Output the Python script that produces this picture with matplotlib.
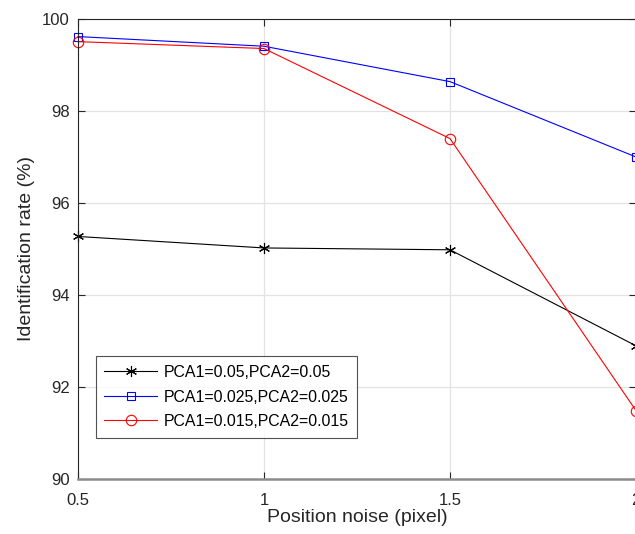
import matplotlib.pyplot as plt

plt.rcParams['font.family'] = ['Liberation Sans', 'DejaVu Sans']

noise = [0.5, 1, 1.5, 2]
rate_005 = [95.27, 95.02, 94.98, 92.89]
rate_0025 = [99.62, 99.41, 98.64, 97.00]
rate_0015 = [99.51, 99.36, 97.40, 91.48]
labels = ['PCA1=0.05,PCA2=0.05', 'PCA1=0.025,PCA2=0.025', 'PCA1=0.015,PCA2=0.015']

fig = plt.figure(figsize=(6.35, 5.34), dpi=100)
ax = fig.add_axes([0.1228, 0.1037, 0.8788, 0.8605])

# six-armed asterisk like the matlab '*' marker
ax.plot(noise, rate_005, color='black', marker=(6, 2, 0), markersize=8, linewidth=0.8,
        markeredgewidth=0.8, label=labels[0], clip_on=False)
ax.plot(noise, rate_0025, color='blue', marker='s', markersize=6.2, linewidth=0.8,
        markerfacecolor='none', markeredgewidth=0.8, label=labels[1], clip_on=False)
ax.plot(noise, rate_0015, color='red', marker='o', markersize=7.5, linewidth=0.8,
        markerfacecolor='none', markeredgewidth=0.8, label=labels[2], clip_on=False)

ax.set_xlim(0.5, 2)
ax.set_ylim(90, 100)
ax.set_xticks([0.5, 1, 1.5, 2])
ax.set_xticklabels(['0.5', '1', '1.5', '2'])
ax.set_yticks([90, 92, 94, 96, 98, 100])
ax.grid(True, color='#e3e3e3', linewidth=0.9)
ax.set_axisbelow(True)
ax.tick_params(direction='in', top=True, right=True, labelsize=12, length=5,
               width=0.8, colors='#262626')
ax.tick_params(axis='x', pad=10)
ax.tick_params(axis='y', pad=6)
for side in ['left', 'top', 'right']:
    ax.spines[side].set_color('#262626')
    ax.spines[side].set_linewidth(0.8)
ax.spines['bottom'].set_color('#8c8c8c')
ax.spines['bottom'].set_linewidth(1.8)

ax.set_xlabel('Position noise (pixel)', fontsize=14, color='#262626', labelpad=1)
ax.set_ylabel('Identification rate (%)', fontsize=14, color='#262626', labelpad=5)

leg = ax.legend(loc='lower left', bbox_to_anchor=(0.1507, 0.1803), bbox_transform=fig.transFigure,
                fontsize=11.4, frameon=True, fancybox=False, edgecolor='#262626',
                handlelength=3.3, borderpad=0.55, labelspacing=0.6, handletextpad=0.45,
                borderaxespad=0)
leg.get_frame().set_linewidth(0.8)

fig.savefig('out.png', dpi=100)
